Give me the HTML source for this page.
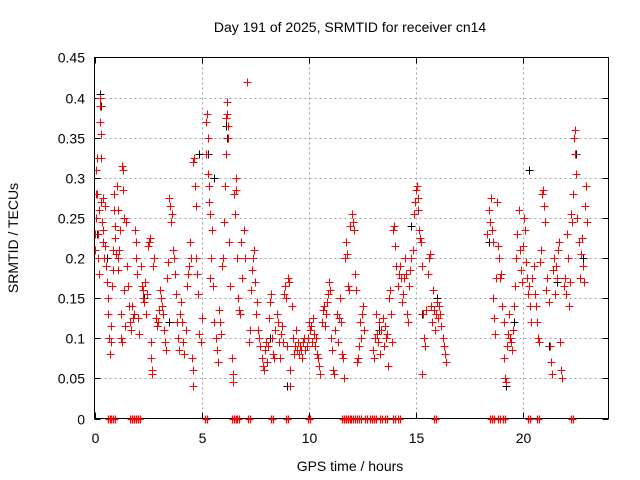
<!DOCTYPE html>
<html><head><meta charset="utf-8"><style>
html,body{margin:0;padding:0;background:#fff;}
svg{display:block;font-family:"Liberation Sans",Arial,sans-serif;}
</style></head><body>
<svg id="chart" width="640" height="480" viewBox="0 0 640 480">
<rect x="0" y="0" width="640" height="480" fill="#fff"/>
<text x="350" y="32" font-size="14" text-anchor="middle">Day 191 of 2025, SRMTID for receiver cn14</text>
<text x="350" y="471" font-size="14" text-anchor="middle">GPS time / hours</text>
<text x="18" y="238" font-size="14" text-anchor="middle" transform="rotate(-90 18 238)">SRMTID / TECUs</text>
<g id="grid"></g>
<g id="ticks"></g>
<defs><clipPath id="clip"><rect x="94" y="57" width="515" height="370"/></clipPath></defs>
<g id="black" clip-path="url(#clip)"></g>
<g id="red" clip-path="url(#clip)"></g>
<rect x="94.5" y="57.5" width="514" height="361" fill="none" stroke="#000" stroke-width="1"/>
<g id="zero"></g>
</svg>
<script>
const xTicks = [0,5,10,15,20];
const yTicks = [0,0.05,0.1,0.15,0.2,0.25,0.3,0.35,0.4,0.45];
const yTickLabels = ["0","0.05","0.1","0.15","0.2","0.25","0.3","0.35","0.4","0.45"];
const redHours = [0.02,0.03,0.05,0.05,0.08,0.1,0.12,0.15,0.18,0.2,0.22,0.25,0.26,0.28,0.3,0.3,0.32,0.35,0.38,0.4,0.42,0.45,0.48,0.5,
0.55,0.6,0.62,0.65,0.7,0.72,0.75,0.78,0.8,0.85,0.88,0.9,0.92,0.95,0.98,1.0,
1.05,1.08,1.1,1.12,1.15,1.2,1.22,1.25,1.28,1.3,1.32,1.35,1.38,1.4,1.42,1.45,1.5,
1.55,1.6,1.65,1.7,1.75,1.8,1.85,1.9,1.92,1.95,2.0,2.05,2.1,
2.15,2.2,2.25,2.28,2.3,2.35,2.4,2.45,2.5,
2.55,2.6,2.62,2.65,2.68,2.7,2.75,2.8,2.85,2.9,2.95,3.0,
3.05,3.1,3.15,3.2,3.25,3.3,3.35,3.4,3.45,3.5,3.52,3.55,
3.6,3.65,3.7,3.75,3.8,3.85,3.9,3.95,4.0,
4.05,4.1,4.15,4.2,4.25,4.3,4.35,4.4,4.45,4.5,
4.55,4.58,4.6,4.62,4.65,4.7,4.72,4.75,4.8,4.85,4.9,4.95,5.0,
5.2,5.22,5.25,5.28,5.3,5.33,5.35,5.38,5.4,5.45,5.5,
5.55,5.6,5.65,5.7,5.75,5.8,5.85,5.9,5.95,6.0,
6.05,6.1,6.12,6.15,6.18,6.2,6.22,6.25,6.3,6.35,6.4,6.45,6.48,6.5,
6.55,6.6,6.62,6.65,6.7,6.75,6.8,6.85,6.9,7.0,7.05,7.1,
7.2,7.25,7.3,7.35,7.4,7.45,7.5,
7.55,7.6,7.65,7.7,7.75,7.8,7.85,7.9,7.95,8.0,
8.05,8.1,8.15,8.2,8.25,8.3,8.35,8.4,8.45,8.5,
8.55,8.6,8.65,8.7,8.75,8.8,8.85,8.9,8.95,9.0,
9.05,9.1,9.12,9.15,9.2,9.25,9.3,9.35,9.4,9.45,9.5,
9.55,9.6,9.65,9.7,9.75,9.8,9.85,9.9,9.95,10.0,
10.05,10.1,10.15,10.2,10.25,10.3,10.35,10.4,10.45,10.5,
10.55,10.6,10.65,10.7,10.75,10.8,10.85,10.9,10.95,11.0,
11.05,11.1,11.15,11.2,11.25,11.3,11.35,11.4,11.45,11.5,
11.55,11.6,11.65,11.7,11.75,11.8,11.85,11.9,11.95,12.0,12.05,12.1,
12.15,12.2,12.25,12.3,12.35,12.4,12.45,12.5,12.55,12.6,
13.0,13.05,13.1,13.15,13.2,13.25,13.3,13.35,13.4,13.45,13.5,
13.55,13.6,13.65,13.7,13.75,13.8,13.85,13.9,13.95,14.0,
14.05,14.1,14.15,14.2,14.25,14.3,14.35,14.4,14.45,14.5,
14.55,14.6,14.65,14.7,14.75,14.8,14.85,14.9,14.95,15.0,
15.05,15.1,15.12,15.15,15.2,15.25,15.28,15.3,15.35,15.4,15.45,15.5,
15.55,15.6,15.65,15.7,15.75,15.8,15.85,15.9,15.95,16.0,
16.05,16.1,16.15,16.2,16.25,16.3,16.35,16.4,
18.35,18.4,18.45,18.5,18.55,18.6,18.62,18.65,18.7,18.75,18.8,18.85,18.9,18.95,19.0,
19.05,19.1,19.12,19.15,19.2,19.25,19.3,19.35,19.4,19.45,19.5,
19.55,19.6,19.65,19.7,19.75,19.8,19.85,19.9,19.95,20.0,
20.05,20.1,20.15,20.2,20.25,20.3,20.35,20.4,20.45,20.5,
20.55,20.6,20.65,20.7,20.75,20.8,20.85,20.9,20.95,21.0,
21.05,21.1,21.15,21.2,21.25,21.3,21.35,21.4,21.45,21.5,
21.55,21.6,21.65,21.7,21.75,21.8,21.85,21.9,21.95,22.0,
22.05,22.1,22.15,22.2,22.25,22.3,22.35,22.4,22.42,22.45,22.5,
22.55,22.6,22.65,22.7,22.75,22.8,22.85,22.9,22.95,23.0,
0.7,0.8,0.9,1.7,1.8,1.9,2.0,2.1,5.2,6.45,6.55,6.7,7.2,8.3,9.0,10.0,11.6,11.7,11.8,11.9,12.0,12.2,12.4,12.7,12.9,13.0,13.1,13.4,13.6,14.0,14.2,15.9,18.5,18.6,18.9,19.1,20.3,20.7,22.3];
const redValues = [0.21,0.23,0.25,0.28,0.31,0.325,0.28,0.23,0.2,0.18,0.26,0.4,0.39,0.37,0.355,0.325,0.27,0.245,0.22,0.275,0.235,0.2,0.265,0.215,
0.19,0.17,0.15,0.13,0.1,0.08,0.095,0.115,0.165,0.185,0.21,0.26,0.28,0.24,0.225,0.205,
0.29,0.26,0.2,0.185,0.21,0.235,0.13,0.1,0.095,0.315,0.31,0.285,0.25,0.16,0.115,0.245,0.19,
0.165,0.14,0.12,0.11,0.14,0.125,0.13,0.235,0.22,0.2,0.18,0.125,0.105,
0.19,0.165,0.15,0.16,0.145,0.17,0.13,0.155,0.215,
0.22,0.225,0.095,0.075,0.055,0.06,0.19,0.2,0.125,0.115,0.12,0.135,
0.16,0.15,0.14,0.13,0.11,0.095,0.085,0.175,0.195,0.275,0.265,0.245,
0.255,0.21,0.2,0.18,0.155,0.12,0.1,0.085,0.13,
0.145,0.12,0.095,0.08,0.11,0.165,0.18,0.19,0.22,0.2,
0.075,0.04,0.06,0.32,0.325,0.29,0.265,0.2,0.18,0.155,0.105,0.095,0.125,
0.33,0.37,0.38,0.35,0.305,0.29,0.27,0.255,0.175,0.2,0.235,
0.165,0.12,0.1,0.085,0.07,0.135,0.12,0.105,0.19,0.2,
0.245,0.29,0.33,0.375,0.395,0.38,0.365,0.35,0.22,0.165,0.075,0.055,0.045,0.28,
0.255,0.3,0.285,0.2,0.15,0.135,0.13,0.22,0.175,0.235,0.2,0.42,
0.095,0.11,0.16,0.185,0.2,0.21,0.17,
0.13,0.145,0.11,0.1,0.09,0.075,0.065,0.06,0.085,0.095,
0.07,0.09,0.125,0.145,0.155,0.1,0.08,0.075,0.11,0.13,
0.12,0.095,0.075,0.105,0.115,0.095,0.155,0.165,0.15,0.09,
0.175,0.17,0.04,0.06,0.14,0.1,0.08,0.09,0.11,0.085,0.095,
0.08,0.09,0.085,0.075,0.095,0.1,0.085,0.09,0.1,0.12,
0.11,0.115,0.095,0.125,0.105,0.09,0.1,0.08,0.075,0.065,
0.055,0.12,0.135,0.14,0.115,0.13,0.145,0.155,0.17,0.16,
0.1,0.085,0.06,0.055,0.11,0.13,0.095,0.125,0.15,0.12,
0.08,0.075,0.05,0.2,0.22,0.205,0.165,0.16,0.24,0.255,0.245,0.235,
0.18,0.16,0.07,0.075,0.09,0.12,0.1,0.13,0.14,0.11,
0.085,0.075,0.1,0.13,0.105,0.095,0.12,0.08,0.11,0.125,0.09,
0.115,0.1,0.105,0.065,0.15,0.16,0.13,0.095,0.235,0.24,
0.215,0.19,0.165,0.18,0.19,0.175,0.145,0.155,0.175,0.2,
0.18,0.13,0.12,0.165,0.185,0.2,0.21,0.255,0.27,0.285,
0.29,0.275,0.26,0.235,0.225,0.22,0.055,0.19,0.13,0.1,0.09,0.135,
0.18,0.2,0.205,0.14,0.12,0.16,0.135,0.11,0.13,0.145,
0.125,0.14,0.13,0.115,0.1,0.09,0.08,0.07,
0.23,0.26,0.245,0.275,0.235,0.22,0.15,0.125,0.105,0.175,0.27,0.215,0.2,0.175,0.18,
0.14,0.12,0.075,0.05,0.045,0.09,0.105,0.13,0.1,0.095,0.085,
0.11,0.14,0.165,0.2,0.23,0.26,0.21,0.185,0.17,0.215,
0.25,0.235,0.195,0.175,0.155,0.165,0.14,0.12,0.175,0.19,
0.155,0.14,0.12,0.1,0.095,0.195,0.21,0.28,0.285,0.265,
0.245,0.16,0.175,0.145,0.09,0.07,0.055,0.185,0.2,0.155,
0.19,0.175,0.21,0.22,0.095,0.06,0.05,0.165,0.175,0.155,
0.23,0.2,0.14,0.17,0.255,0.245,0.28,0.35,0.36,0.33,0.305,
0.25,0.22,0.175,0.205,0.225,0.19,0.17,0.265,0.29,0.245,
0,0,0,0,0,0,0,0,0,0,0,0,0,0,0,0,0,0,0,0,0,0,0,0,0,0,0,0,0,0,0,0,0,0,0,0,0,0,0];
const blackHours = [0.1,0.25,0.3,0.6,2.3,3.5,4.9,5.3,5.6,6.15,6.2,8.2,9.0,10.3,12.5,13.3,14.8,15.3,16.0,18.4,19.2,19.6,20.3,21.2,21.6,22.5,22.8];
const blackValues = [0.23,0.405,0.39,0.2,0.15,0.12,0.33,0.33,0.3,0.365,0.35,0.1,0.04,0.09,0.13,0.11,0.24,0.13,0.15,0.22,0.04,0.12,0.31,0.09,0.17,0.33,0.2];

const L=94.5,R=608.5,T=57.5,B=418.5;
function xs(h){return L+(R-L)*h/24;}
function ys(v){return B-(B-T)*v/0.45;}
const NS="http://www.w3.org/2000/svg";
const grid=document.getElementById('grid'), ticks=document.getElementById('ticks');
function line(g,x1,y1,x2,y2,st,dash){const l=document.createElementNS(NS,'line');l.setAttribute('x1',x1);l.setAttribute('y1',y1);l.setAttribute('x2',x2);l.setAttribute('y2',y2);l.setAttribute('stroke',st);l.setAttribute('stroke-width',1);if(dash)l.setAttribute('stroke-dasharray',dash);g.appendChild(l);return l;}
yTicks.forEach((v,i)=>{
  const y=Math.round(ys(v))+0.5;
  if(i>0&&i<yTicks.length-1){const g=line(grid,L,y,R,y,'#a0a0a0','2,3');
  
  }
  line(ticks,L,y,L+6,y,'#000');line(ticks,R-6,y,R,y,'#000');
  const t=document.createElementNS(NS,'text');t.setAttribute('x',85);t.setAttribute('y',y+5);t.setAttribute('font-size','14');t.setAttribute('text-anchor','end');t.textContent=yTickLabels[i];
  
  
  ticks.appendChild(t);
});
xTicks.forEach(h=>{
  const x=Math.round(xs(h))+0.5;
  if(h>0){const g=line(grid,x,T,x,B,'#a0a0a0','2,3');
  
  }
  line(ticks,x,B,x,B-6,'#000');line(ticks,x,T,x,T+6,'#000');
  const t=document.createElementNS(NS,'text');t.setAttribute('x',x);t.setAttribute('y',443);t.setAttribute('font-size','14');t.setAttribute('text-anchor','middle');t.textContent=String(h);
  
  
  ticks.appendChild(t);
});
function plus(g,h,v,c,name){
  const x=Math.round(xs(h))+0.5,y=Math.round(ys(v))+0.5;
  const p=document.createElementNS(NS,'path');
  p.setAttribute('d',`M${x-4},${y}H${x+4}M${x},${y-4}V${y+4}`);
  p.setAttribute('stroke',c);p.setAttribute('stroke-width',1);p.setAttribute('fill','none');
  
  
  g.appendChild(p);
}
const bg=document.getElementById('black'),rg=document.getElementById('red'),zg=document.getElementById('zero');
blackHours.forEach((h,i)=>plus(bg,h,blackValues[i],'#000','black-point'));
redHours.forEach((h,i)=>{
  if(redValues[i]===0){
    const x=Math.round(xs(h))+0.5,y=Math.round(ys(0))+0.5;
    const p=document.createElementNS(NS,'path');
    p.setAttribute('d',`M${x-1},${y-4}V${y+4}M${x+1},${y-4}V${y+4}M${x-4},${y}H${x+4}`);
    p.setAttribute('stroke','#ff0000');p.setAttribute('stroke-width',1.2);p.setAttribute('fill','none');
    
    
    zg.appendChild(p);
  } else plus(rg,h,redValues[i],'#ff0000','red-point');
});
</script>
</body></html>
